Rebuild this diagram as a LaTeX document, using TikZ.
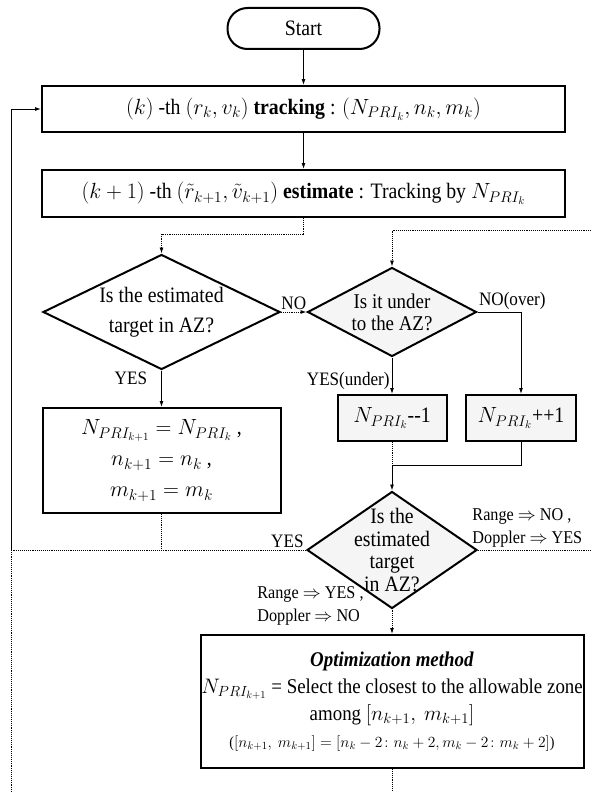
\RequirePackage{fix-cm}
\documentclass[tikz,border=0pt]{standalone}
\usepackage{amsmath}
\usepackage{fontspec}
\setmainfont{Liberation Serif}[FakeStretch=0.9]
\usetikzlibrary{positioning, arrows.meta, shapes.geometric}

\begin{document}
\begin{tikzpicture}[x=1pt, y=-1pt, on grid, >={Latex[length=6pt, width=4pt]}, line width=0.9pt,
    font=\fontsize{22}{30}\selectfont,
    stepbox/.style={draw, line width=2pt, align=center, inner sep=0pt},
    decision/.style={diamond, draw, line width=2pt, inner sep=0pt},
    shaded/.style={fill=gray!8},
    faint/.style={densely dotted},
    lbl/.style={font=\fontsize{19}{22}\selectfont, inner sep=2pt},
    cond/.style={font=\fontsize{18}{23}\selectfont, inner sep=2pt, align=left}]
    \useasboundingbox (0,0) rectangle (591,792);

    % Define blocks
    \node[stepbox, rounded corners=20pt, minimum width=152pt, minimum height=41pt] (start) at (303.5,28.5) {Start};
    \node[stepbox, minimum width=523pt, minimum height=46pt] (track) [below=80.5pt of start]
        {$(k)$ -th $(r_k, v_k)$ \textbf{tracking} : $(N_{PRI_k}, n_k, m_k)$};
    \node[stepbox, minimum width=523pt, minimum height=47pt] (est) [below=84.5pt of track]
        {$(k+1)$ -th $(\tilde{r}_{k+1}, \tilde{v}_{k+1})$ \textbf{estimate} : Tracking by $N_{PRI_k}$};
    \node[decision, minimum width=237pt, minimum height=115pt] (inAZ) at (161.5,312) {};
    \node[align=center] (inAZtxt) at (inAZ) {Is the estimated\\target in AZ?};
    \node[decision, shaded, minimum width=169pt, minimum height=89pt] (under) [right=230.5pt of inAZ] {};
    \node[align=center, font=\fontsize{21}{22}\selectfont] (undertxt) at (under) {Is it under\\to the AZ?};
    \node[stepbox, minimum width=238pt, minimum height=105pt, font=\fontsize{22}{31}\selectfont] (keep) [below=148.5pt of inAZ]
        {$N_{PRI_{k+1}} = N_{PRI_k}$ ,\\ $n_{k+1} = n_k$ ,\\ $m_{k+1} = m_k$};
    \node[stepbox, shaded, minimum width=109pt, minimum height=46pt] (dec) [below=106pt of under] {$N_{PRI_k}$-{}-1};
    \node[stepbox, shaded, minimum width=110pt, minimum height=46pt] (inc) [right=129pt of dec] {$N_{PRI_k}$++1};
    \node[decision, shaded, minimum width=170pt, minimum height=117pt] (again) [below=238pt of under] {};
    \node[align=center, font=\fontsize{22}{22.5}\selectfont] (againtxt) at (again) {Is the\\estimated\\target\\in AZ?};
    \node[stepbox, minimum width=383pt, minimum height=133pt, font=\fontsize{21}{27}\selectfont] (opt) [below=151.5pt of again]
        {\textbf{\textit{Optimization method}}\\
         $N_{PRI_{k+1}}$ = Select the closest to the allowable zone\\
         among $[n_{k+1},\ m_{k+1}]$\\
         {\fontsize{15.5}{17}\selectfont ($[n_{k+1},\ m_{k+1}] = [n_k-2\colon n_k+2, m_k-2\colon m_k+2]$)}};

    % Loose ends at the border
    \coordinate (loopR) at (591,230);
    \coordinate (edgeR) at (591,550);
    \coordinate (turnL) at (11,550);
    \coordinate (bottomL) at (11,792);
    \coordinate (bottomR) at (392,792);

    % Define connections
    \draw[->] (start) -- (track);
    \draw[->] (track) -- (est);
    \draw[faint, ->] (est.south) -- ++(0,16) -| (inAZ.north);
    \draw[faint, ->] (loopR) -| (under.north);
    \draw[faint, ->] (inAZ.east) -- node[lbl, anchor=south] {NO} (under.west);
    \draw[->] (inAZ.south) -- node[lbl, anchor=east, xshift=-12pt, pos=0.2] {YES} (keep.north);
    \draw[->] (under.south) -- node[lbl, anchor=east, pos=0.65] {YES(under)} (dec.north);
    \draw[->] (under.east) -| node[lbl, anchor=south, pos=0.4] {NO(over)} (inc.north);
    \draw[faint] (dec.south) -- ++(0,23) coordinate (join);
    \draw (inc.south) |- (join);
    \draw[->] (join) -- (again.north);
    \draw[faint] (keep.south) -- (keep.south |- again.west);
    \draw[faint] (again.west) node[lbl, anchor=south east] {YES} -- (turnL);
    \draw[->] (turnL) |- (track.west);
    \draw[faint] (bottomL) -- (turnL);
    \draw[faint] (again.east) -- (edgeR);
    \node[cond, anchor=south west, xshift=-8pt] (rangeNo) at (again.east) {Range $\Rightarrow$ NO ,\\Doppler $\Rightarrow$ YES};
    \draw[faint, ->] (again.south) -- (opt.north);
    \node[cond, anchor=north east, xshift=-26pt, yshift=25pt] (rangeYes) at (again.south) {Range $\Rightarrow$ YES ,\\Doppler $\Rightarrow$ NO};
    \draw[faint] (opt.south) -- (bottomR);
\end{tikzpicture}
\end{document}
